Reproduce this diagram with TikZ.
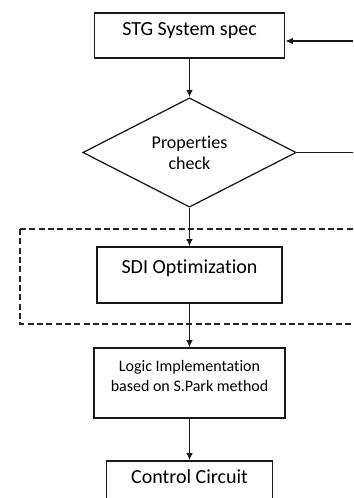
\documentclass[tikz,border=0pt]{standalone}
\usepackage{fontspec}
\setmainfont{Carlito}[Ligatures=CommonOff]
\usetikzlibrary{shapes.geometric,arrows.meta}
\tikzset{
  flowbox/.style={draw=black!90,line width=0.95pt,rectangle,inner sep=0pt,
    font=\fontsize{15}{18}\selectfont},
  flowcheck/.style={draw=black!90,line width=0.95pt,diamond,inner sep=0pt,
    align=center,font=\fontsize{13.5}{16}\selectfont},
  flowarrow/.style={-{Latex[length=5.5pt,width=5pt]},line width=0.95pt,black!90},
  flowline/.style={line width=0.95pt,black!90},
  optregion/.style={draw=black!85,line width=0.95pt,dash pattern=on 4.5pt off 2.5pt}
}

\begin{document}
\begin{tikzpicture}[x=0.75pt,y=-0.75pt]
  \clip (0,0) rectangle (353,498);
  % dashed frame round the optimization step
  \draw[optregion] (20,229) rectangle (362,324);
  \node[flowbox,minimum width=143pt,minimum height=33.75pt,
    text height=10pt,text depth=10pt] (stg) at (189.5,35.5) {STG System spec};
  \node[flowcheck,minimum width=160pt,minimum height=75.75pt,
    text depth=0pt] (chk) at (189.5,152.5) {Properties\\check};
  \node[flowbox,minimum width=138.75pt,minimum height=42pt,
    text height=10pt,text depth=13pt] (sdi) at (189.5,275) {SDI Optimization};
  \node[flowbox,minimum width=143.25pt,minimum height=52.5pt,align=center,
    font=\fontsize{12}{15}\selectfont,text depth=10.5pt] (impl) at (189.5,383)
    {Logic Implementation\\based on S.Park method};
  \node[flowbox,minimum width=124.5pt,minimum height=33.75pt,
    text height=10pt,text depth=10pt] (ctrl) at (189.5,483.5) {Control Circuit};
  % feedback ends leaving the page on the right
  \coordinate (loopin) at (353,41);
  \coordinate (loopout) at (353,152.5);
  \draw[flowarrow] (stg) -- (chk);
  \draw[flowarrow] (chk) -- (sdi);
  \draw[flowarrow] (sdi) -- (impl);
  \draw[flowarrow] (impl) -- (ctrl);
  \draw[flowline] (chk.east) -- (loopout);
  \draw[flowarrow] (loopin) -- (loopin -| stg.east);
\end{tikzpicture}
\end{document}
